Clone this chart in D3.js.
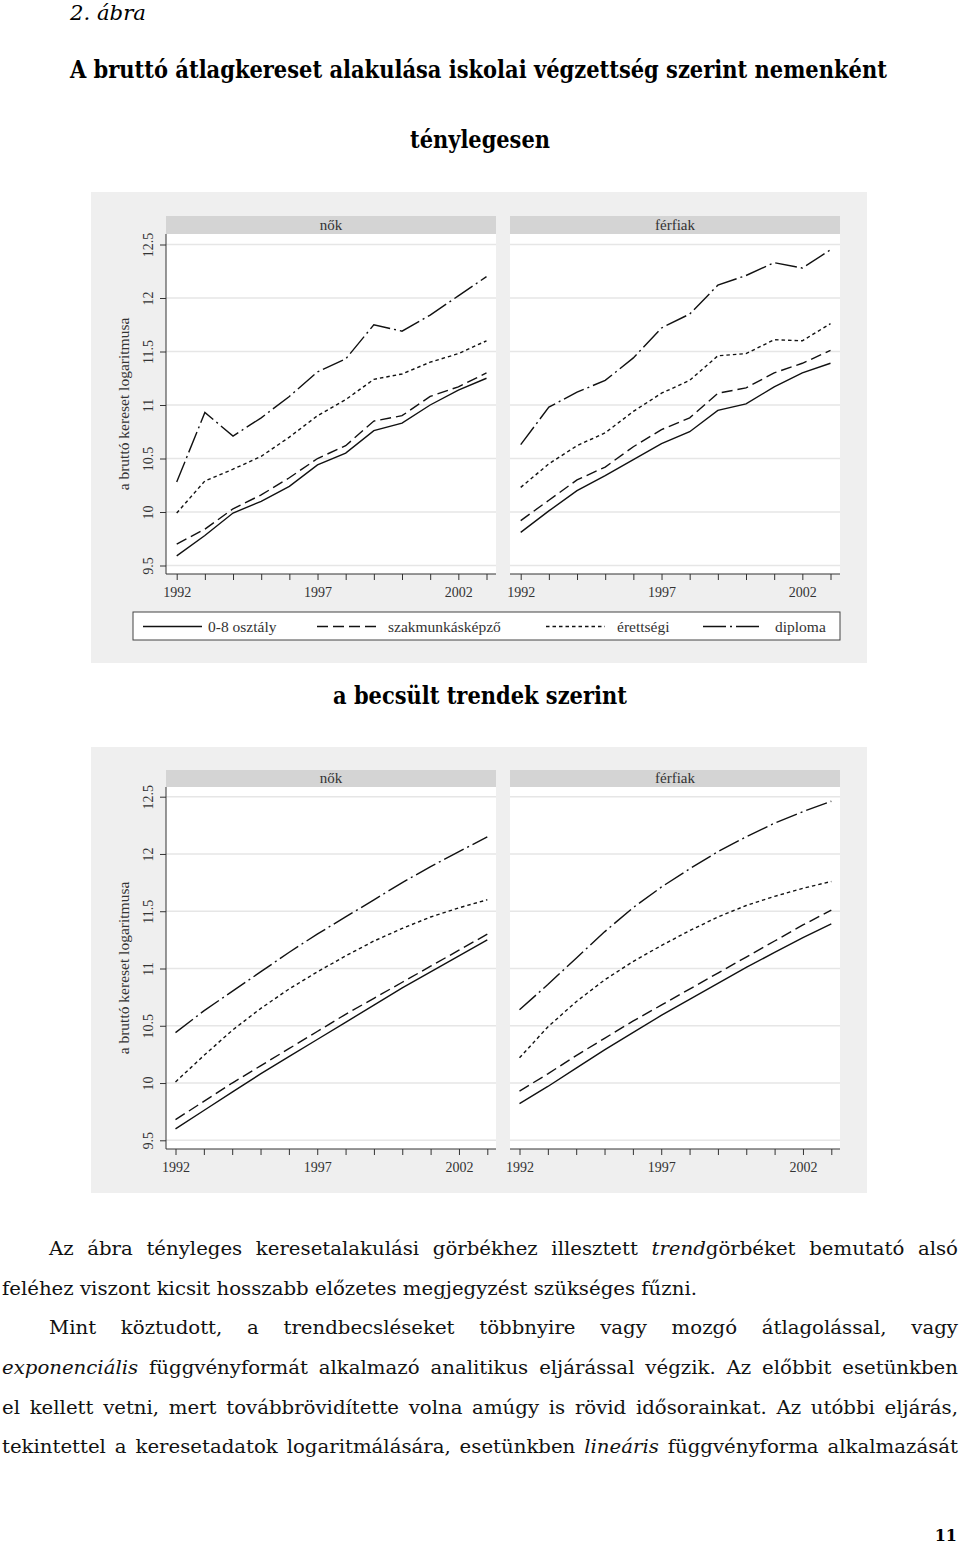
<!DOCTYPE html>
<html>
<head>
<meta charset="utf-8">
<script src="https://cdn.jsdelivr.net/npm/d3@7"></script>
<style>
  body { margin: 0; background: #fff; }
  svg { display: block; }
</style>
</head>
<body>
<svg id="page" width="960" height="1546"></svg>
<script>
// ---------- data ----------
const years = [1992, 1993, 1994, 1995, 1996, 1997, 1998, 1999, 2000, 2001, 2002, 2003];
const yearLabels = [1992, 1997, 2002];
const yTicks = [9.5, 10, 10.5, 11, 11.5, 12, 12.5];
const panelNames = ["nők", "férfiak"];
const groupNames = ["0-8 osztály", "szakmunkásképző", "érettségi", "diploma"];

// tényleges értékek
const nokOsztaly      = [9.59, 9.78, 9.99, 10.10, 10.24, 10.44, 10.55, 10.76, 10.83, 11.00, 11.14, 11.25];
const nokSzakmunkas   = [9.70, 9.84, 10.03, 10.16, 10.32, 10.50, 10.62, 10.85, 10.90, 11.08, 11.17, 11.30];
const nokErettsegi    = [9.99, 10.29, 10.40, 10.52, 10.70, 10.90, 11.05, 11.24, 11.29, 11.40, 11.48, 11.60];
const nokDiploma      = [10.28, 10.93, 10.71, 10.88, 11.08, 11.31, 11.43, 11.75, 11.69, 11.84, 12.02, 12.20];
const ferfiOsztaly    = [9.81, 10.01, 10.20, 10.34, 10.49, 10.64, 10.75, 10.95, 11.01, 11.17, 11.30, 11.39];
const ferfiSzakmunkas = [9.92, 10.11, 10.30, 10.42, 10.61, 10.77, 10.88, 11.11, 11.16, 11.30, 11.39, 11.51];
const ferfiErettsegi  = [10.23, 10.45, 10.62, 10.74, 10.94, 11.11, 11.23, 11.46, 11.48, 11.61, 11.60, 11.76];
const ferfiDiploma    = [10.63, 10.98, 11.12, 11.23, 11.44, 11.72, 11.85, 12.12, 12.21, 12.33, 12.28, 12.45];

// becsült trendek
const nokOsztalyTrend      = [9.60, 9.76, 9.92, 10.08, 10.23, 10.38, 10.53, 10.68, 10.83, 10.97, 11.11, 11.25];
const nokSzakmunkasTrend   = [9.68, 9.84, 10.00, 10.15, 10.30, 10.45, 10.60, 10.74, 10.88, 11.02, 11.16, 11.30];
const nokErettsegiTrend    = [10.01, 10.24, 10.46, 10.65, 10.82, 10.97, 11.11, 11.24, 11.35, 11.45, 11.53, 11.60];
const nokDiplomaTrend      = [10.44, 10.63, 10.80, 10.97, 11.14, 11.30, 11.45, 11.60, 11.75, 11.89, 12.02, 12.15];
const ferfiOsztalyTrend    = [9.82, 9.97, 10.13, 10.29, 10.44, 10.59, 10.73, 10.87, 11.01, 11.14, 11.27, 11.39];
const ferfiSzakmunkasTrend = [9.93, 10.08, 10.24, 10.39, 10.54, 10.68, 10.82, 10.96, 11.10, 11.24, 11.38, 11.51];
const ferfiErettsegiTrend  = [10.22, 10.49, 10.71, 10.90, 11.06, 11.20, 11.33, 11.45, 11.55, 11.63, 11.70, 11.76];
const ferfiDiplomaTrend    = [10.64, 10.86, 11.09, 11.32, 11.53, 11.71, 11.87, 12.02, 12.15, 12.27, 12.37, 12.46];

// ---------- styles ----------
const chartFont = "'Liberation Serif', 'Times New Roman', serif";
const bodyFont = "'DejaVu Serif', serif";
const dashes = [null, "11,5", "3.5,3", "22,4,2,4"];
const panelLefts = [166, 510];
const panelWidth = 330;

const svg = d3.select("#page");

// ---------- headings ----------
// squeeze a text horizontally so it spans `len` pixels from x
function fitText(t, x, y, len) {
    const natural = t.node().getComputedTextLength();
    t.attr("transform", `translate(${x},${y}) scale(${len / natural},1)`);
}

fitText(svg.append("text")
    .attr("font-family", bodyFont).attr("font-style", "italic")
    .attr("font-size", 21)
    .text("2. ábra"), 70, 20, 76);

function heading(text, x, y, len) {
    const t = svg.append("text")
        .attr("font-family", bodyFont).attr("font-weight", "bold")
        .attr("font-size", 24)
        .text(text);
    fitText(t, x, y, len);
}
heading("A bruttó átlagkereset alakulása iskolai végzettség szerint nemenként", 70, 78, 817);
heading("ténylegesen", 410, 148, 140);
heading("a becsült trendek szerint", 333, 704, 294);

// ---------- chart ----------
function drawChart(c, data) {
    const g = svg.append("g");

    g.append("rect")
        .attr("x", 91).attr("y", c.top)
        .attr("width", 776).attr("height", c.height)
        .attr("fill", "#efefef");

    const y = d3.scaleLinear().domain([9.5, 12.5]).range([c.yLow, c.yHigh]);

    panelNames.forEach((name, i) => {
        const left = panelLefts[i];
        const x = d3.scaleLinear().domain([years[0], years[years.length - 1]])
            .range([left + c.padL, left + c.padR]);

        // strip
        g.append("rect")
            .attr("x", left).attr("y", c.stripY)
            .attr("width", panelWidth).attr("height", c.plotTop - c.stripY)
            .attr("fill", "#d4d4d4");
        g.append("text")
            .attr("x", left + panelWidth / 2).attr("y", c.plotTop - 4)
            .attr("text-anchor", "middle")
            .attr("font-family", chartFont).attr("font-size", 15)
            .attr("fill", "#333")
            .text(name);

        // plot area
        g.append("rect")
            .attr("x", left).attr("y", c.plotTop)
            .attr("width", panelWidth).attr("height", c.plotBottom - c.plotTop)
            .attr("fill", "#fff");

        g.selectAll(null).data(yTicks).enter().append("line")
            .attr("x1", left).attr("x2", left + panelWidth)
            .attr("y1", d => y(d)).attr("y2", d => y(d))
            .attr("stroke", "#e6e6e6").attr("stroke-width", 1.5);

        const line = d3.line()
            .x((d, j) => x(years[j]))
            .y(d => y(d));

        data[i].forEach((vals, k) => {
            g.append("path")
                .datum(vals)
                .attr("d", line)
                .attr("fill", "none")
                .attr("stroke", "#111")
                .attr("stroke-width", 1.4)
                .attr("stroke-dasharray", dashes[k]);
        });

        // x axis
        const ax = g.append("g")
            .attr("transform", `translate(0,${c.plotBottom})`)
            .call(d3.axisBottom(x)
                .tickValues(years)
                .tickSize(6)
                .tickFormat(d => yearLabels.includes(d) ? d : ""));
        ax.select(".domain").remove();
        ax.selectAll(".tick line").attr("stroke", "#333");
        ax.selectAll("text")
            .attr("y", 13)
            .attr("font-family", chartFont).attr("font-size", 14)
            .attr("fill", "#333");
        g.append("line")
            .attr("x1", left).attr("x2", left + panelWidth)
            .attr("y1", c.plotBottom).attr("y2", c.plotBottom)
            .attr("stroke", "#333");

        // y axis, left panel only
        if (i === 0) {
            const ay = g.append("g")
                .attr("transform", `translate(${left},0)`)
                .call(d3.axisLeft(y).tickValues(yTicks).tickSize(6).tickFormat(d3.format("")));
            ay.select(".domain").remove();
            ay.selectAll(".tick line").attr("stroke", "#333");
            ay.selectAll("text")
                .attr("x", 0).attr("y", -13).attr("dy", 0)
                .attr("transform", "rotate(-90)")
                .attr("text-anchor", "middle")
                .attr("font-family", chartFont).attr("font-size", 14)
                .attr("fill", "#333");
            g.append("line")
                .attr("x1", left).attr("x2", left)
                .attr("y1", c.plotTop).attr("y2", c.plotBottom)
                .attr("stroke", "#333");
            g.append("text")
                .attr("transform", `translate(129,${(c.plotTop + c.plotBottom) / 2}) rotate(-90)`)
                .attr("text-anchor", "middle")
                .attr("font-family", chartFont).attr("font-size", 15.5)
                .attr("fill", "#333")
                .text("a bruttó kereset logaritmusa");
        }
    });

    // legend
    if (c.legend) {
        const lg = g.append("g");
        lg.append("rect")
            .attr("x", 133).attr("y", 612)
            .attr("width", 707).attr("height", 28)
            .attr("fill", "#fff").attr("stroke", "#444");
        const sampleX = [143, 317, 546, 703];
        const labelX = [208, 388, 617, 775];
        groupNames.forEach((name, k) => {
            lg.append("line")
                .attr("x1", sampleX[k]).attr("x2", sampleX[k] + 59)
                .attr("y1", 626.5).attr("y2", 626.5)
                .attr("stroke", "#111").attr("stroke-width", 1.4)
                .attr("stroke-dasharray", k === 3 ? "23,4,2,4" : dashes[k]);
            lg.append("text")
                .attr("x", labelX[k]).attr("y", 631.5)
                .attr("font-family", chartFont).attr("font-size", 15.5)
                .attr("fill", "#333")
                .text(name);
        });
    }
}

drawChart({
    top: 192, height: 471, stripY: 216, plotTop: 234, plotBottom: 574,
    yLow: 565.5, yHigh: 244.5, padL: 10.7, padR: 320.5, legend: true
}, [
    [nokOsztaly, nokSzakmunkas, nokErettsegi, nokDiploma],
    [ferfiOsztaly, ferfiSzakmunkas, ferfiErettsegi, ferfiDiploma]
]);

drawChart({
    top: 747, height: 446, stripY: 770, plotTop: 787, plotBottom: 1149,
    yLow: 1140.3, yHigh: 796.7, padL: 9.5, padR: 321.3, legend: false
}, [
    [nokOsztalyTrend, nokSzakmunkasTrend, nokErettsegiTrend, nokDiplomaTrend],
    [ferfiOsztalyTrend, ferfiSzakmunkasTrend, ferfiErettsegiTrend, ferfiDiplomaTrend]
]);

// ---------- body text ----------
const paraLines = [
    { x: 49, end: 958, parts: [["Az ábra tényleges keresetalakulási görbékhez illesztett ", false], ["trend", true], ["görbéket bemutató alsó", false]] },
    { x: 2, end: 697, parts: [["feléhez viszont kicsit hosszabb előzetes megjegyzést szükséges fűzni.", false]] },
    { x: 49, end: 958, parts: [["Mint köztudott, a trendbecsléseket többnyire vagy mozgó átlagolással, vagy", false]] },
    { x: 2, end: 958, parts: [["exponenciális", true], [" függvényformát alkalmazó analitikus eljárással végzik. Az előbbit esetünkben", false]] },
    { x: 2, end: 958, parts: [["el kellett vetni, mert továbbrövidítette volna amúgy is rövid idősorainkat. Az utóbbi eljárás,", false]] },
    { x: 2, end: 958, parts: [["tekintettel a keresetadatok logaritmálására, esetünkben ", false], ["lineáris", true], [" függvényforma alkalmazását", false]] }
];

// stretch the glyphs so the free-running last line of the first paragraph
// keeps its natural length, then justify the other lines with word spacing
const body = svg.append("g");
const bodyLines = paraLines.map((ln, i) => {
    const t = body.append("text")
        .attr("y", 1255 + i * 39.7)
        .attr("font-family", bodyFont).attr("font-size", 19)
        .attr("fill", "#111")
        .attr("xml:space", "preserve");
    ln.parts.forEach(p => {
        t.append("tspan")
            .attr("font-style", p[1] ? "italic" : "normal")
            .text(p[0]);
    });
    return t;
});
const stretch = (paraLines[1].end - paraLines[1].x) / bodyLines[1].node().getComputedTextLength();
body.attr("transform", `scale(${stretch},1)`);
paraLines.forEach((ln, i) => {
    const t = bodyLines[i];
    const natural = t.node().getComputedTextLength();
    const spaces = ln.parts.map(p => p[0]).join("").split(" ").length - 1;
    const ws = ((ln.end - ln.x) / stretch - natural) / spaces;
    t.attr("x", ln.x / stretch).style("word-spacing", ws + "px");
});

svg.append("text")
    .attr("x", 957).attr("y", 1541)
    .attr("text-anchor", "end")
    .attr("font-family", bodyFont).attr("font-weight", "bold")
    .attr("font-size", 16)
    .text("11");
</script>
</body>
</html>
